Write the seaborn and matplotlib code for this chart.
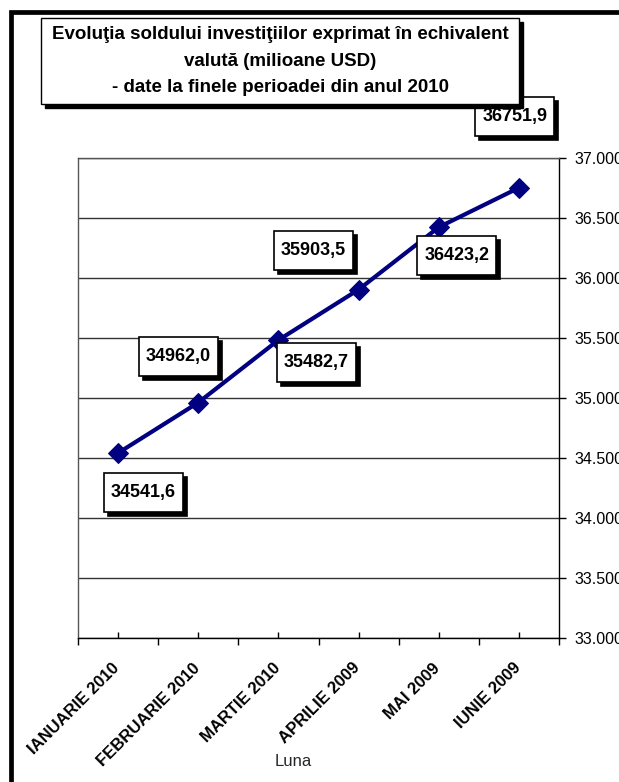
import matplotlib
matplotlib.use("Agg")
import matplotlib.pyplot as plt
import matplotlib.transforms as mtransforms
import seaborn as sns
import pandas as pd
from matplotlib.patches import Rectangle
from matplotlib.path import Path
from matplotlib.ticker import FuncFormatter, MultipleLocator, FixedLocator

# ---- data ----
months = ["IANUARIE 2010", "FEBRUARIE 2010", "MARTIE 2010",
          "APRILIE 2009", "MAI 2009", "IUNIE 2009"]
values = [34541.6, 34962.0, 35482.7, 35903.5, 36423.2, 36751.9]
value_labels = ["34541,6", "34962,0", "35482,7", "35903,5", "36423,2", "36751,9"]
title_lines = ["Evoluţia soldului investiţiilor exprimat în echivalent",
               "valută (milioane USD)",
               "- date la finele perioadei din anul 2010"]
x_label = "Luna"
y_min, y_max, y_step = 33000, 37000, 500

# label offsets (pixels, y up) relative to each point
label_dx = [25, -20, 38, -45, 18, -4]
label_dy = [-39, 46, -22, 39, -28, 71]


def rect_box(padx, pady):
    def _box(x0, y0, width, height, mutation_size):
        x1, y1 = x0 - padx, y0 - pady
        x2, y2 = x0 + width + padx, y0 + height + pady
        return Path([(x1, y1), (x2, y1), (x2, y2), (x1, y2), (x1, y1)], closed=True)
    return _box


sns.set_theme(style="white")
plt.rcParams["font.family"] = ["Liberation Sans", "DejaVu Sans"]

W, H = 619, 782
fig = plt.figure(figsize=(W / 100, H / 100), dpi=100)
ax = fig.add_axes([78 / W, (H - 638) / H, 481 / W, 480 / H])

df = pd.DataFrame({"month": months, "value": values})
sns.lineplot(data=df, x="month", y="value", ax=ax, color="#000080",
             linewidth=3, marker="D", markersize=10, markeredgecolor="#000080",
             sort=False, zorder=4)

ax.set_xlim(-0.5, len(months) - 0.5)
ax.set_ylim(y_min, y_max)
ax.yaxis.set_major_locator(MultipleLocator(y_step))
ax.yaxis.set_major_formatter(FuncFormatter(lambda v, p: f"{int(v):,}".replace(",", ".")))
ax.yaxis.tick_right()
ax.tick_params(axis="y", which="major", direction="out", length=5, width=1,
               color="black", labelsize=11.5, pad=6, left=False, right=True,
               labelcolor="black")
ax.grid(axis="y", color="#333333", linewidth=1)
ax.set_axisbelow(True)

ax.xaxis.set_minor_locator(FixedLocator([i - 0.5 for i in range(len(months) + 1)]))
ax.set_xticks(range(len(months)))
ax.set_xticklabels(months, rotation=45, ha="right", rotation_mode="anchor",
                   fontsize=12, fontweight="bold", color="black")
ax.tick_params(axis="x", which="major", direction="in", length=4, width=1,
               color="black", pad=16, bottom=True)
ax.tick_params(axis="x", which="minor", direction="out", length=5, width=1,
               color="black", bottom=True)
ax.set_xlabel("")
ax.set_ylabel("")
shift = mtransforms.ScaledTranslation(-6 / 100, 0, fig.dpi_scale_trans)
for lbl in ax.get_xticklabels():
    lbl.set_transform(lbl.get_transform() + shift)

for s in ["left", "top"]:
    ax.spines[s].set_color("#555555")
    ax.spines[s].set_linewidth(1)
for s in ["right", "bottom"]:
    ax.spines[s].set_color("black")
    ax.spines[s].set_linewidth(1)

# data labels with shadows
sh = 4
for i, (v, lab) in enumerate(zip(values, value_labels)):
    dx, dy = label_dx[i] * 0.72, label_dy[i] * 0.72
    ax.annotate(lab, (i, v), xytext=(dx + sh * 0.72, dy - sh * 0.72),
                textcoords="offset points", ha="center", va="center",
                fontsize=13, fontweight="bold", color="black",
                bbox=dict(boxstyle=rect_box(7, 11), fc="black", ec="black", lw=1.2),
                zorder=5)
    ax.annotate(lab, (i, v), xytext=(dx, dy),
                textcoords="offset points", ha="center", va="center",
                fontsize=13, fontweight="bold", color="black",
                bbox=dict(boxstyle=rect_box(7, 11), fc="white", ec="black", lw=1.2),
                zorder=6)

# title box with shadow
title = "\n".join(title_lines)
tx, ty = 280 / W, 1 - 61 / H
fig.text(tx + 4 / W, ty - 4 / H, title, ha="center", va="center", fontsize=13.5,
         fontweight="bold", linespacing=1.75, color="black",
         bbox=dict(boxstyle=rect_box(11, 8), fc="black", ec="black", lw=1))
fig.text(tx, ty, title, ha="center", va="center", fontsize=13.5,
         fontweight="bold", linespacing=1.75, color="black",
         bbox=dict(boxstyle=rect_box(11, 8), fc="white", ec="black", lw=1))

fig.text(293 / W, 1 - 762 / H, x_label, ha="center", va="center", fontsize=12)

# outer frame (right/bottom edges fall outside the image)
fig.patches.append(Rectangle((10.5 / W, -0.2), 2.0, 1 - 12 / H + 0.2,
                             transform=fig.transFigure, fill=False,
                             ec="black", lw=3.4, clip_on=False))

fig.savefig("out.png", dpi=100)
